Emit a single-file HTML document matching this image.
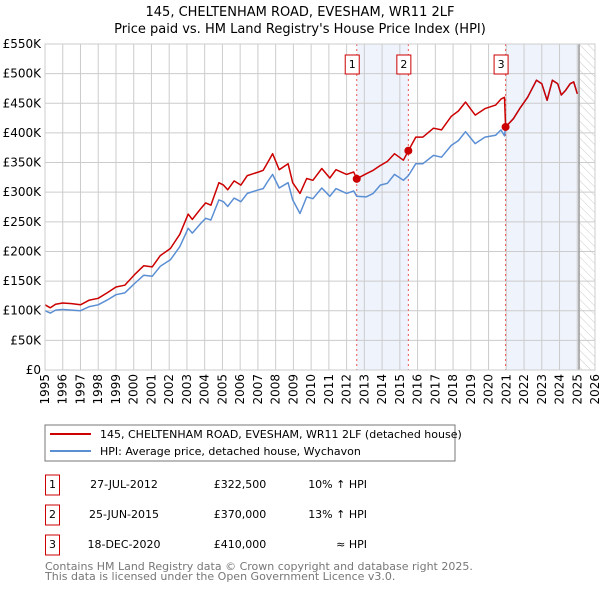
<!DOCTYPE html>
<html><head><meta charset="utf-8"><style>
body{margin:0;background:#fff;}
svg{display:block;font-family:"DejaVu Sans","Liberation Sans",sans-serif;}
</style></head><body>
<svg id="chart" width="600" height="590" viewBox="0 0 600 590">
<defs><pattern id="hatch" width="6" height="6" patternUnits="userSpaceOnUse" patternTransform="rotate(-45)"><line x1="0" y1="0" x2="0" y2="6" stroke="#ccc" stroke-width="1"/></pattern></defs>
<text x="300" y="16" text-anchor="middle" font-size="13" fill="#000">145, CHELTENHAM ROAD, EVESHAM, WR11 2LF</text>
<text x="300" y="33" text-anchor="middle" font-size="13" fill="#000">Price paid vs. HM Land Registry's House Price Index (HPI)</text>
<g id="plot"></g>
<g>
<rect x="45" y="425" width="410" height="36" fill="#fff" stroke="#777" stroke-width="1"/>
<line x1="50" y1="434" x2="91" y2="434" stroke="#cc0000" stroke-width="2"/>
<text x="100" y="438" font-size="11">145, CHELTENHAM ROAD, EVESHAM, WR11 2LF (detached house)</text>
<line x1="50" y1="451" x2="91" y2="451" stroke="#5b8fd4" stroke-width="2"/>
<text x="100" y="455" font-size="11">HPI: Average price, detached house, Wychavon</text>
</g>
<g font-size="11">
<rect x="45.5" y="475" width="14" height="20" fill="#fff" stroke="#cc0000"/><text x="52.5" y="488" text-anchor="middle">1</text>
<text x="124" y="488" text-anchor="middle">27-JUL-2012</text>
<text x="240" y="488" text-anchor="middle">£322,500</text>
<text x="367" y="488" text-anchor="end">10% ↑ HPI</text>
<rect x="45.5" y="505" width="14" height="20" fill="#fff" stroke="#cc0000"/><text x="52.5" y="518" text-anchor="middle">2</text>
<text x="124" y="518" text-anchor="middle">25-JUN-2015</text>
<text x="240" y="518" text-anchor="middle">£370,000</text>
<text x="367" y="518" text-anchor="end">13% ↑ HPI</text>
<rect x="45.5" y="535" width="14" height="20" fill="#fff" stroke="#cc0000"/><text x="52.5" y="548" text-anchor="middle">3</text>
<text x="124" y="548" text-anchor="middle">18-DEC-2020</text>
<text x="240" y="548" text-anchor="middle">£410,000</text>
<text x="367" y="548" text-anchor="end">≈ HPI</text>
</g>
<text x="45" y="570" font-size="11" fill="#777">Contains HM Land Registry data © Crown copyright and database right 2025.</text>
<text x="45" y="580" font-size="11" fill="#777">This data is licensed under the Open Government Licence v3.0.</text>
</svg>
<script>
const years=[1995.0,1995.3,1995.6,1996.0,1996.5,1997.0,1997.5,1998.0,1998.5,1999.0,1999.5,2000.05,2000.57,2001.04,2001.5,2002.07,2002.6,2003.07,2003.3,2003.8,2004.06,2004.35,2004.8,2005.06,2005.3,2005.66,2006.04,2006.4,2007.04,2007.3,2007.55,2007.83,2008.2,2008.7,2008.96,2009.37,2009.75,2010.1,2010.6,2011.05,2011.4,2012.0,2012.4,2012.57,2013.1,2013.5,2013.9,2014.3,2014.7,2015.2,2015.48,2015.9,2016.3,2016.9,2017.35,2017.9,2018.3,2018.7,2019.25,2019.8,2020.4,2020.7,2020.9,2020.96,2021.4,2021.8,2022.2,2022.7,2023.0,2023.3,2023.6,2023.9,2024.1,2024.35,2024.6,2024.8,2025.0];
const hpiValues=[100,96,101,102,101,100,107,110,118,127,130,146,160,158,175,186,208,239,231,248,256,253,287,284,276,290,284,298,304,306,318,330,307,316,287,264,292,289,307,293,306,298,302,293,292,298,312,315,330,320,328,348,348,362,359,379,387,402,382,393,396,405,395,410,424,443,460,489,483,455,489,483,464,472,483,486,466];
const priceValues=[110,105,111,113,112,110,118,121,130,140,143,161,176,174,193,205,229,263,254,273,282,278,316,312,304,319,312,328,334,337,350,365,338,348,316,298,323,320,340,324,338,330,334,322.5,331,337,345,352,365,354,370,393,393,408,405,428,437,452,430,441,447,457,460,410,424,443,460,489,483,455,489,483,464,472,483,486,466];
const saleYears=[2012.57,2015.48,2020.96];
const salePrices=[322.5,370,410];
const saleLabels=["1","2","3"];
const yTicks=[0,50,100,150,200,250,300,350,400,450,500,550];
const yTickLabels=["£0","£50K","£100K","£150K","£200K","£250K","£300K","£350K","£400K","£450K","£500K","£550K"];
const xTicks=[1995,1996,1997,1998,1999,2000,2001,2002,2003,2004,2005,2006,2007,2008,2009,2010,2011,2012,2013,2014,2015,2016,2017,2018,2019,2020,2021,2022,2023,2024,2025,2026];
const dataEnd=2025.1;

const L=45,R=595,T=44,B=370,X0=1995,X1=2026,Y1=550;
const sx=v=>L+(v-X0)/(X1-X0)*(R-L);
const sy=v=>B-v/Y1*(B-T);
const NS="http://www.w3.org/2000/svg";
const plot=document.getElementById('plot');
function mk(tag,attrs,parent){const e=document.createElementNS(NS,tag);for(const k in attrs)e.setAttribute(k,attrs[k]);(parent||plot).appendChild(e);return e;}

let e;
e=mk('rect',{x:sx(saleYears[0]),y:T,width:sx(saleYears[1])-sx(saleYears[0]),height:B-T,fill:'#eef3fc'});


e=mk('rect',{x:sx(saleYears[2]),y:T,width:sx(dataEnd)-sx(saleYears[2]),height:B-T,fill:'#eef3fc'});


e=mk('rect',{x:sx(dataEnd),y:T,width:R-sx(dataEnd),height:B-T,fill:'url(#hatch)'});



yTicks.forEach((t,i)=>{
  e=mk('line',{x1:L,x2:R,y1:sy(t),y2:sy(t),stroke:'#ccc','stroke-width':1});
  
  
  e=mk('text',{x:L-4,y:sy(t)+4,'text-anchor':'end','font-size':12,fill:'#000'});
  e.textContent=yTickLabels[i];
  
  
});
xTicks.forEach(t=>{
  e=mk('line',{x1:sx(t),x2:sx(t),y1:T,y2:B,stroke:'#ccc','stroke-width':1});
  
  
  e=mk('text',{x:0,y:0,'text-anchor':'end','font-size':12,fill:'#000',transform:`translate(${sx(t)+4},374) rotate(-90)`});
  e.textContent=String(t);
  
  
});
e=mk('line',{x1:sx(dataEnd),x2:sx(dataEnd),y1:T,y2:B,stroke:'#999','stroke-width':1.5});



saleYears.forEach((y,i)=>{
  e=mk('line',{x1:sx(y),x2:sx(y),y1:T,y2:B,stroke:'#ee5555','stroke-width':1,'stroke-dasharray':'2,3'});
  
  
});

const pts=arr=>years.map((y,i)=>sx(y).toFixed(1)+','+sy(arr[i]).toFixed(1)).join(' ');
e=mk('polyline',{points:pts(hpiValues),fill:'none',stroke:'#5b8fd4','stroke-width':1.5,'stroke-linejoin':'round'});


e=mk('polyline',{points:pts(priceValues),fill:'none',stroke:'#cc0000','stroke-width':1.5,'stroke-linejoin':'round'});



saleYears.forEach((y,i)=>{
  e=mk('circle',{cx:sx(y),cy:sy(salePrices[i]),r:4,fill:'#cc0000'});
  
  
  e=mk('rect',{x:sx(y)-11.5,y:55,width:14,height:19,fill:'#fff',stroke:'#cc0000'});
  
  
  e=mk('text',{x:sx(y)-4.5,y:68,'text-anchor':'middle','font-size':11});
  e.textContent=saleLabels[i];
  
  
});
e=mk('rect',{x:L,y:T,width:R-L,height:B-T,fill:'none',stroke:'#ccc'});


</script>
</body></html>
